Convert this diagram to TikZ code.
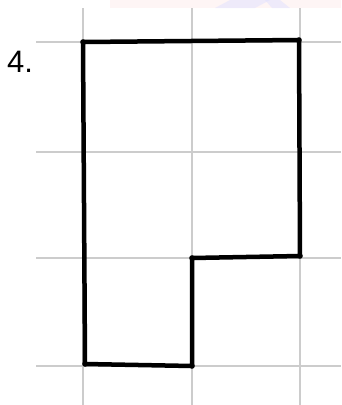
\documentclass[tikz,border=0pt]{standalone}
\usepackage{fontspec}
\setmainfont{Liberation Sans}
\begin{document}
\begin{tikzpicture}[x=1pt,y=-1pt]
      \tikzstyle{gridline} = [draw=black!20,line width=1.2pt];
      \tikzstyle{outline} = [draw=black,line width=4.5pt,line join=round,line cap=round];
      \useasboundingbox (0,0) rectangle (341,405);
      % faint band at the top
      \fill [blue!6!red!4!white] (110,0) rectangle (341,8);
      \fill [blue!12!white,opacity=.5] (230,0) -- (270,0) -- (255,8) -- (215,8) -- cycle;
      \fill [blue!12!white,opacity=.5] (265,0) -- (280,0) -- (290,8) -- (272,8) -- cycle;
      % grid
      \foreach \gx in {83,192,300} \draw [gridline] (\gx,8) -- (\gx,405);
      \foreach \gy in {42,152,258,366} \draw [gridline] (36,\gy) -- (341,\gy);
      % label
      \node [anchor=south west,inner sep=0pt,font=\fontsize{31}{31}\selectfont] (num) at (7,72.5) {4.};
      % the figure
      \coordinate (tl) at (83,42);
      \coordinate (tr) at (299,40);
      \coordinate (rs) at (300,256);
      \coordinate (st) at (192,258);
      \coordinate (bs) at (192,366);
      \coordinate (bl) at (85,364);
      \draw [outline] (tl) -- (tr) -- (rs) -- (st) -- (bs) -- (bl) -- cycle;
      \foreach \c in {tl,tr,rs,st,bs,bl} \fill (\c) circle (2.8);
    \end{tikzpicture}
\end{document}
